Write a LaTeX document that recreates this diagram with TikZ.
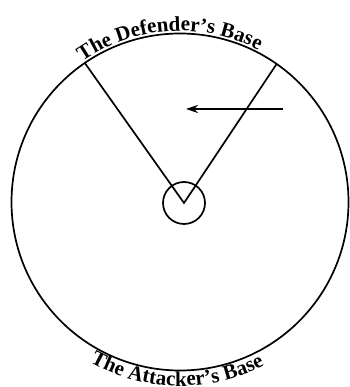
\documentclass[tikz,border=0pt]{standalone}
\usepackage{fontspec}
\setmainfont{Liberation Serif}
\usetikzlibrary{arrows.meta,calc,decorations.text}
\begin{document}
\begin{tikzpicture}[x=1pt,y=1pt,line width=1.7pt,
  basetext/.style={decorate,decoration={text along path,text align=center,
    text={|\fontsize{21}{22}\selectfont\bfseries|#1}}}]
\useasboundingbox (0,0) rectangle (349,387);
\coordinate (c) at (180,185);
\coordinate (v) at (184,184);
\coordinate (dl) at ($(c)+(124.4:168.5pt)$);
\coordinate (dr) at ($(c)+(55:168.5pt)$);
\coordinate (atail) at (283,278);
\coordinate (ahead) at (186,278);
\draw (c) circle (168.5pt);
\draw (v) circle (21pt);
\draw[line join=miter] (dl) -- (v) -- (dr);
\draw[line width=1.2pt,-{Stealth[length=12pt,width=8pt]}] (atail) -- (ahead);
\path[basetext={The Defender's Base}] (c) ++(143.7:171pt) arc[start angle=143.7,end angle=43.7,radius=171pt];
\path[basetext={The Attacker's Base}] (c) ++(229:184pt) arc[start angle=229,end angle=309,radius=184pt];
\end{tikzpicture}
\end{document}
